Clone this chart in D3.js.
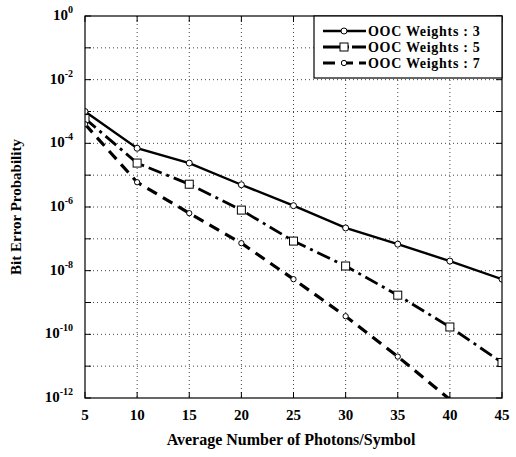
<!DOCTYPE html>
<html>
<head>
<meta charset="utf-8">
<script src="https://cdn.jsdelivr.net/npm/d3@7"></script>
<style>
    body { margin: 0; background: #fff; }
    svg text { font-family: "Liberation Serif", "Times New Roman", "DejaVu Serif", serif; font-weight: bold; fill: #000; }
    .grid line { stroke: #444; stroke-width: 1; stroke-dasharray: 1, 3; }
</style>
</head>
<body>
<script>

// photons per symbol
var photons = [5, 10, 15, 20, 25, 30, 35, 40, 45];

// bit error probability for each OOC weight
var weight3 = [1.0e-3, 7e-5, 2.4e-5, 5e-6, 1.1e-6, 2.2e-7, 6.8e-8, 2.0e-8, 5.4e-9];
var weight5 = [6e-4, 2.4e-5, 5.2e-6, 8e-7, 8.5e-8, 1.4e-8, 1.7e-9, 1.7e-10, 1.3e-11];
var weight7 = [4e-4, 6e-6, 6.4e-7, 7.3e-8, 5.4e-9, 3.7e-10, 2e-11, 9e-13, 4e-14];

var seriesNames = ["OOC Weights : 3", "OOC Weights : 5", "OOC Weights : 7"];
var xTicks = [5, 10, 15, 20, 25, 30, 35, 40, 45];
var yExponents = [0, -2, -4, -6, -8, -10, -12];

window.onload = function() {

    var width = 516, height = 457;
    var left = 85, right = 502, top = 16, bottom = 398;

    var svg = d3.select("body").append("svg")
        .attr("width", width)
        .attr("height", height)
        .attr("font-family", "Liberation Serif, Times New Roman, serif");

    var x = d3.scaleLinear().domain([5, 45]).range([left, right]);
    var y = d3.scaleLog().domain([1e-12, 1]).range([bottom, top]);

    // every decade gets a grid line and a tick
    var decades = d3.range(-12, 1).map(function(e) { return Math.pow(10, e); });

    var grid = svg.append("g").attr("class", "grid");
    grid.selectAll(".h")
        .data(decades.slice(1, -1))
        .enter().append("line")
        .attr("x1", left).attr("x2", right)
        .attr("y1", function(d) { return y(d); })
        .attr("y2", function(d) { return y(d); });
    grid.selectAll(".v")
        .data(xTicks.slice(1, -1))
        .enter().append("line")
        .attr("y1", top).attr("y2", bottom)
        .attr("x1", function(d) { return x(d); })
        .attr("x2", function(d) { return x(d); });

    // inward ticks on all four sides
    var ticks = svg.append("g").attr("stroke", "#000").attr("stroke-width", 1);
    decades.forEach(function(d) {
        ticks.append("line").attr("x1", left).attr("x2", left + 6).attr("y1", y(d)).attr("y2", y(d));
        ticks.append("line").attr("x1", right).attr("x2", right - 6).attr("y1", y(d)).attr("y2", y(d));
    });
    xTicks.forEach(function(d) {
        ticks.append("line").attr("x1", x(d)).attr("x2", x(d)).attr("y1", bottom).attr("y2", bottom - 6);
        ticks.append("line").attr("x1", x(d)).attr("x2", x(d)).attr("y1", top).attr("y2", top + 6);
    });

    // x tick labels
    svg.selectAll(".xlab")
        .data(xTicks)
        .enter().append("text")
        .attr("x", function(d) { return x(d); })
        .attr("y", bottom + 22)
        .attr("text-anchor", "middle")
        .style("font-size", "15px")
        .text(function(d) { return d; });

    // y tick labels as 10 with a superscript
    var ylab = svg.selectAll(".ylab")
        .data(yExponents)
        .enter().append("text")
        .attr("x", left - 12)
        .attr("y", function(d) { return y(Math.pow(10, d)) + 4; })
        .attr("text-anchor", "end")
        .style("font-size", "15px");
    ylab.append("tspan").text("10");
    ylab.append("tspan")
        .attr("dy", -7)
        .style("font-size", "10px")
        .text(function(d) { return d === 0 ? "0" : d; });

    // axis titles
    svg.append("text")
        .attr("x", 291)
        .attr("y", 445)
        .attr("text-anchor", "middle")
        .style("font-size", "16px")
        .text("Average Number of Photons/Symbol");

    svg.append("text")
        .attr("transform", "translate(21," + ((top + bottom) / 2) + ") rotate(-90)")
        .attr("text-anchor", "middle")
        .style("font-size", "15px")
        .text("Bit Error Probability");

    // clip the curves to the plot area
    svg.append("clipPath").attr("id", "plot")
        .append("rect")
        .attr("x", left).attr("y", top)
        .attr("width", right - left).attr("height", bottom - top);

    var series = [
        {name: seriesNames[0], values: weight3, dash: null, marker: "circle", width: 2.4},
        {name: seriesNames[1], values: weight5, dash: "14,5,3,5", marker: "square", width: 2.8},
        {name: seriesNames[2], values: weight7, dash: "11,7", marker: "diamond", width: 3.2}
    ];

    var line = d3.line()
        .x(function(d) { return x(d[0]); })
        .y(function(d) { return y(d[1]); });

    var plot = svg.append("g").attr("clip-path", "url(#plot)");

    function drawMarker(g, type, cx, cy) {
        if (type === "circle") {
            g.append("circle").attr("cx", cx).attr("cy", cy).attr("r", 3)
                .attr("fill", "#fff").attr("stroke", "#000").attr("stroke-width", 1);
        } else if (type === "square") {
            g.append("rect").attr("x", cx - 4).attr("y", cy - 4).attr("width", 8).attr("height", 8)
                .attr("fill", "#fff").attr("stroke", "#000").attr("stroke-width", 1);
        } else {
            g.append("path")
                .attr("d", d3.symbol().type(d3.symbolCircle).size(22)())
                .attr("transform", "translate(" + cx + "," + cy + ")")
                .attr("fill", "#fff").attr("stroke", "#000").attr("stroke-width", 1);
        }
    }

    series.forEach(function(s) {
        var pts = photons.map(function(p, i) { return [p, s.values[i]]; });
        plot.append("path")
            .datum(pts)
            .attr("d", line)
            .attr("fill", "none")
            .attr("stroke", "#000")
            .attr("stroke-width", s.width)
            .attr("stroke-dasharray", s.dash);
        pts.forEach(function(p) {
            if (p[1] >= 1e-12) drawMarker(plot, s.marker, x(p[0]), y(p[1]));
        });
    });

    // plot frame
    svg.append("rect")
        .attr("x", left).attr("y", top)
        .attr("width", right - left).attr("height", bottom - top)
        .attr("fill", "none").attr("stroke", "#000").attr("stroke-width", 1.2);

    // legend box in the upper right corner
    var legend = svg.append("g");
    legend.append("rect")
        .attr("x", 314).attr("y", top)
        .attr("width", right - 314).attr("height", 62)
        .attr("fill", "#fff").attr("stroke", "#000").attr("stroke-width", 1.2);

    series.forEach(function(s, i) {
        var ly = 31 + i * 16;
        legend.append("line")
            .attr("x1", 323).attr("x2", 366)
            .attr("y1", ly).attr("y2", ly)
            .attr("stroke", "#000")
            .attr("stroke-width", s.width)
            .attr("stroke-dasharray", s.dash ? (i === 1 ? "20,3,3,3" : "12,6") : null);
        drawMarker(legend, s.marker, 344, ly);
        legend.append("text")
            .attr("x", 368)
            .attr("y", ly + 5)
            .style("font-size", "14px")
            .style("letter-spacing", "0.7px")
            .text(s.name);
    });
};
</script>
</body>
</html>
